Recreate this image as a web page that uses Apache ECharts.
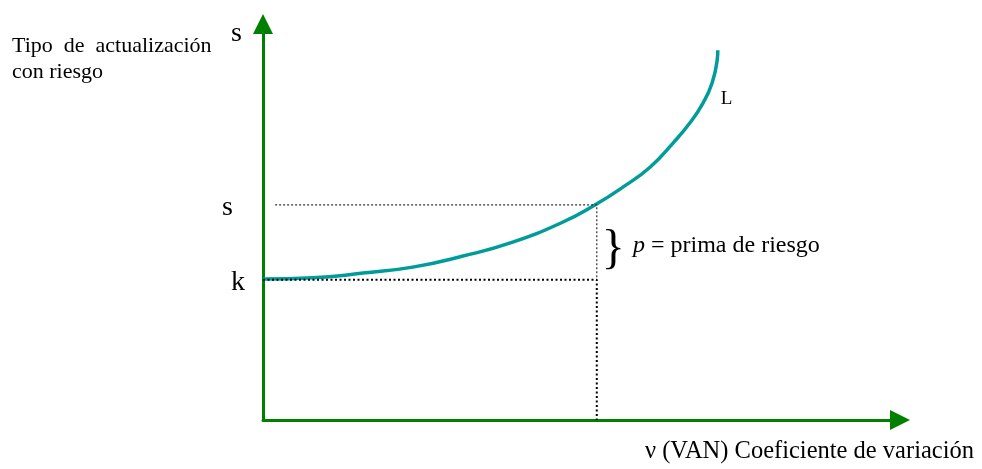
<!DOCTYPE html>
<html>
<head>
<meta charset="utf-8">
<script src="https://cdn.jsdelivr.net/npm/echarts@6/dist/echarts.min.js"></script>
<style>
  html, body { margin: 0; padding: 0; background: #fff; }
  #chart { width: 982px; height: 469px; }
</style>
</head>
<body>
<div id="chart"></div>
<script>
// curva L (coeficiente de variación -> tipo de actualización)
var curveX = [0, 0.78, 1.57, 2.35, 3.14, 3.92, 4.71, 5.21, 5.65, 6.08, 6.44, 6.70, 6.91, 7.05, 7.13, 7.14];
var curveY = [3.56, 3.59, 3.71, 3.86, 4.14, 4.49, 5.00, 5.43, 5.88, 6.39, 7.00, 7.50, 8.01, 8.51, 9.09, 9.34];

var kValue = 3.54;   // tipo sin riesgo
var sValue = 5.43;   // tipo con riesgo
var vPoint = 5.24;   // coeficiente de variación del proyecto
var sLineStart = 0.19;

var font = '"Liberation Serif", "Times New Roman", serif';
var green = '#008000';

var chart = echarts.init(document.getElementById('chart'));

function pairs(xs, ys) {
  return xs.map(function (x, i) { return [x, ys[i]]; });
}

function axisCfg(max) {
  return {
    type: 'value',
    min: 0,
    max: max,
    axisLine: {
      show: true,
      symbol: ['none', 'triangle'],
      symbolSize: [20, 20],
      lineStyle: { color: green, width: 3 }
    },
    axisTick: { show: false },
    axisLabel: { show: false },
    splitLine: { show: false }
  };
}

chart.setOption({
  backgroundColor: '#fff',
  animation: false,
  grid: { left: 263, right: 82, top: 24, bottom: 49 },
  xAxis: axisCfg(10),
  yAxis: axisCfg(10),
  series: [
    {
      // curva L
      type: 'line',
      data: pairs(curveX, curveY),
      smooth: 0.5,
      symbol: 'none',
      lineStyle: { color: '#009c9a', width: 3.5 },
      z: 2
    },
    {
      type: 'line',
      data: [[sLineStart, sValue], [vPoint, sValue], [vPoint, kValue]],
      symbol: 'none',
      lineStyle: { color: '#333', width: 1.2, type: [2, 2] },
      z: 3
    },
    {
      type: 'line',
      data: [[0, kValue], [vPoint, kValue], [vPoint, 0]],
      symbol: 'none',
      lineStyle: { color: '#000', width: 2, type: [2, 2.5] },
      z: 4
    }
  ]
});

var pk = chart.convertToPixel({ gridIndex: 0 }, [0, kValue]);
var ps = chart.convertToPixel({ gridIndex: 0 }, [0, sValue]);
var pv = chart.convertToPixel({ gridIndex: 0 }, [vPoint, (sValue + kValue) / 2]);
var pL = chart.convertToPixel({ gridIndex: 0 }, [curveX[curveX.length - 1], curveY[curveY.length - 1]]);

function txt(x, y, text, size) {
  return {
    type: 'text', z: 10,
    style: { x: x, y: y, text: text, font: size + 'px ' + font, fill: '#000',
             textAlign: 'left', textVerticalAlign: 'middle' }
  };
}

chart.setOption({
  graphic: [
    txt(12, 46.5, 'Tipo  de  actualización', 22),
    txt(12, 72.5, 'con riesgo', 22),
    txt(231, 33.5, 's', 28),
    txt(222, ps[1] + 2.5, 's', 28),
    txt(231, pk[1] + 2.5, 'k', 28),
    txt(pL[0] + 3, pL[1] + 49, 'L', 19),
    txt(pv[0] + 5, pv[1] + 8, '}', 48),
    {
      type: 'text', z: 10,
      style: {
        x: 633, y: pv[1] + 3, textVerticalAlign: 'middle',
        text: '{i|p} = prima de riesgo',
        font: '24px ' + font, fill: '#000',
        rich: { i: { fontStyle: 'italic', fontFamily: font, fontSize: 24 } }
      }
    },
    txt(645, 452, 'ν (VAN) Coeficiente de variación', 24.5)
  ]
});
</script>
</body>
</html>
